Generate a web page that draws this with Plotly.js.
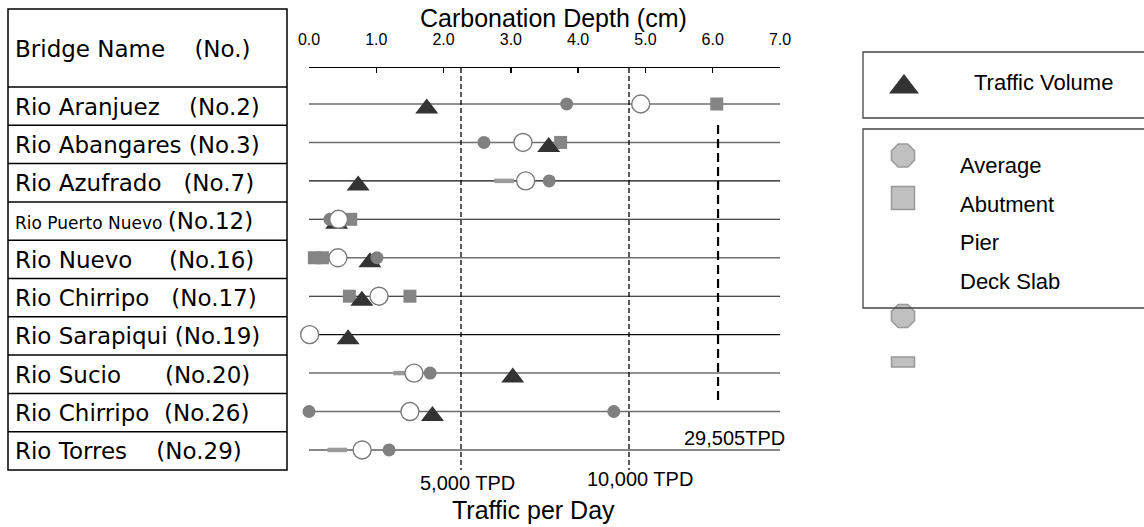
<!DOCTYPE html>
<html><head><meta charset="utf-8">
<script src="https://cdn.plot.ly/plotly-3.0.1.min.js"></script>
<style>html,body{margin:0;padding:0;background:#fff;}#chart{width:1144px;height:527px;}</style>
</head><body><div id="chart"></div>
<script>
// ---------------- data ----------------
const headerName = 'Bridge Name';
const headerNo = '(No.)';
const bridgeNames = ['Rio Aranjuez','Rio Abangares','Rio Azufrado','Rio Puerto Nuevo','Rio Nuevo',
                     'Rio Chirripo','Rio Sarapiqui','Rio Sucio','Rio Chirripo','Rio Torres'];
const bridgeNos = ['(No.2)','(No.3)','(No.7)','(No.12)','(No.16)','(No.17)','(No.19)','(No.20)','(No.26)','(No.29)'];
// carbonation depth (cm)
const averageDepth  = [4.93, 3.18, 3.22, 0.44, 0.43, 1.04, 0.01, 1.56, 1.50, 0.79];
const pierDepth     = [[3.83],[2.60],[3.57],[0.31],[1.01],[],[],[1.80],[0.00,4.53],[1.19]];
const abutmentDepth = [[6.06],[3.74],[],[0.62],[0.08,0.20],[0.60,1.50],[],[],[],[]];
const deckSlabDepth = [[],[],[2.90],[],[],[],[],[1.40],[],[0.42]];
// traffic volume (vehicles per day)
const trafficTPD    = [3980, 7610, 1940, 1300, 2290, 2050, 1640, 6540, 4150, 29505];
const depthTicks = [0,1,2,3,4,5,6,7];
const trafficRefLines = [5000, 10000];
const trafficRefLabels = ['5,000 TPD', '10,000 TPD'];
const offScaleLabel = '29,505TPD';
const legendTop = ['Traffic Volume'];
const legendBottom = ['Average','Abutment','Pier','Deck Slab'];

// ---------------- layout constants (pixels) ----------------
const W = 1144, H = 527;
const plotL = 309, plotR = 780, plotT = 68, plotB = 470;
const rowStep = 38.44, firstRowY = 104;
const px = v => v / W, py = v => 1 - v / H;
const NB = '\u00a0';
const labelGaps = [4,1,3,1,5,3,1,6,2,4];
const rowLineStyle = ['g','g','k','k','g','k','k','g','g','k'];

const keys = bridgeNames.map((n,i) => n + ' ' + bridgeNos[i]);
const yRange = [(plotB - firstRowY) / rowStep, -(firstRowY - plotT) / rowStep];
const triShift = 4.5 / rowStep;
// traffic scale: 5,000 TPD at x=461px, 10,000 TPD at x=629px
const tpdPerPx = 5000 / (629 - 461);
const trafficRange = [5000 - (461 - plotL) * tpdPerPx, 5000 + (plotR - 461) * tpdPerPx];

function flatten(nested) {
  const xs = [], ys = [];
  nested.forEach((arr, i) => arr.forEach(v => { xs.push(v); ys.push(keys[i]); }));
  return {x: xs, y: ys};
}
const pier = flatten(pierDepth), abut = flatten(abutmentDepth), deck = flatten(deckSlabDepth);

const traces = [
  {type:'scatter', mode:'markers', x: deck.x, y: deck.y, xaxis:'x', yaxis:'y', cliponaxis:false,
   marker:{symbol:'line-ew', size:14, line:{width:4.5, color:'#9a9a9a'}}, name:'Deck Slab'},
  {type:'scatter', mode:'markers', x: abut.x, y: abut.y, xaxis:'x', yaxis:'y', cliponaxis:false,
   marker:{symbol:'square', size:13, color:'#858585', line:{width:0}}, name:'Abutment'},
  {type:'scatter', mode:'markers', x: trafficTPD, y: keys, xaxis:'x2', yaxis:'y2', cliponaxis:true,
   marker:{symbol:'triangle-up', size:20, color:'#333333', line:{width:0}}, name:'Traffic Volume'},
  {type:'scatter', mode:'markers', x: pier.x, y: pier.y, xaxis:'x3', yaxis:'y3', cliponaxis:false,
   marker:{symbol:'circle', size:13, color:'#808080', line:{width:0}}, name:'Pier'},
  {type:'scatter', mode:'markers', x: averageDepth, y: keys, xaxis:'x3', yaxis:'y3', cliponaxis:false,
   marker:{symbol:'circle', size:18, color:'#ffffff', line:{width:1.4, color:'#7a7a7a'}}, name:'Average'},
  // legend glyphs (pixel coordinate axes)
  {type:'scatter', mode:'markers', x:[904], y:[87], xaxis:'x4', yaxis:'y4', cliponaxis:false,
   marker:{symbol:'triangle-up', size:26, color:'#333333', line:{width:0}}},
  {type:'scatter', mode:'markers', x:[903, 903], y:[155.5, 316], xaxis:'x4', yaxis:'y4', cliponaxis:false,
   marker:{symbol:'octagon', size:25, color:'#c0c0c0', line:{width:1.5, color:'#999999'}}},
  {type:'scatter', mode:'markers', x:[903], y:[198], xaxis:'x4', yaxis:'y4', cliponaxis:false,
   marker:{symbol:'square', size:23, color:'#c0c0c0', line:{width:1.5, color:'#999999'}}}
];

const shapes = [];
// table
shapes.push({type:'rect', xref:'paper', yref:'paper', x0:px(8), x1:px(287), y0:py(9), y1:py(470), line:{color:'#000', width:1.5}});
for (let i = 0; i < 10; i++) {
  const yb = 87 + i * 38.3;
  shapes.push({type:'line', xref:'paper', yref:'paper', x0:px(8), x1:px(287), y0:py(yb), y1:py(yb), line:{color:'#000', width:1.5}});
}
// row lines
keys.forEach((k,i) => shapes.push({type:'line', xref:'x domain', yref:'y', x0:0, x1:1, y0:k, y1:k, layer:'below',
  line: rowLineStyle[i]==='g' ? {color:'#6e6e6e', width:1.5} : {color:'#111', width:1.1}}));
// traffic reference lines
trafficRefLines.forEach(v => shapes.push({type:'line', xref:'x2', yref:'paper', x0:v, x1:v, y0:py(plotT), y1:py(plotB),
  layer:'below', line:{color:'#000', width:1.3, dash:'5px,3px'}}));
shapes.push({type:'line', xref:'x2', yref:'paper', x0:12650, x1:12650, y0:py(125), y1:py(403),
  layer:'below', line:{color:'#000', width:2.2, dash:'9px,5px'}});
// legend boxes
shapes.push({type:'rect', xref:'paper', yref:'paper', x0:px(863), x1:px(1150), y0:py(52), y1:py(118), line:{color:'#444', width:1.3}});
shapes.push({type:'rect', xref:'paper', yref:'paper', x0:px(863), x1:px(1150), y0:py(129), y1:py(308), line:{color:'#444', width:1.3}});
shapes.push({type:'rect', xref:'paper', yref:'paper', x0:px(891.5), x1:px(914.5), y0:py(357), y1:py(367),
  fillcolor:'#c0c0c0', line:{color:'#999999', width:1.5}});

const ann = [];
const tableFont = {family:'DejaVu Sans, Noto Sans CJK JP', size:23, color:'#000'};
ann.push({xref:'paper', yref:'paper', x:px(13), y:py(49), xanchor:'left', yanchor:'middle', showarrow:false,
  text: headerName + NB.repeat(4) + headerNo, font: tableFont});
bridgeNames.forEach((n,i) => {
  const nameTxt = i === 3 ? '<span style="font-size:17px">' + n + NB + '</span>' : n + NB.repeat(labelGaps[i]);
  ann.push({xref:'paper', yref:'paper', x:px(13), y:py(106.5 + i * 38.3), xanchor:'left', yanchor:'middle', showarrow:false,
    text: nameTxt + bridgeNos[i], font: tableFont});
});
const axFont = 'Liberation Sans, Arial, sans-serif';
ann.push({xref:'paper', yref:'paper', x:px(553), y:py(18), showarrow:false, xanchor:'center', yanchor:'middle',
  text:'Carbonation Depth (cm)', font:{family:axFont, size:25, color:'#000'}});
ann.push({xref:'paper', yref:'paper', x:px(467), y:py(483), showarrow:false, xanchor:'center', yanchor:'middle',
  text:trafficRefLabels[0], font:{family:axFont, size:20, color:'#000'}});
ann.push({xref:'paper', yref:'paper', x:px(640), y:py(479), showarrow:false, xanchor:'center', yanchor:'middle',
  text:trafficRefLabels[1], font:{family:axFont, size:20, color:'#000'}});
ann.push({xref:'paper', yref:'paper', x:px(787), y:py(438), showarrow:false, xanchor:'right', yanchor:'middle',
  text:offScaleLabel, font:{family:axFont, size:20, color:'#000'}});
ann.push({xref:'paper', yref:'paper', x:px(533), y:py(510), showarrow:false, xanchor:'center', yanchor:'middle',
  text:'Traffic per Day', font:{family:axFont, size:25, color:'#000'}});
ann.push({xref:'paper', yref:'paper', x:px(1043), y:py(82), showarrow:false, xanchor:'center', yanchor:'middle',
  text:legendTop[0], font:{family:axFont, size:22, color:'#000'}});
legendBottom.forEach((t,i) => ann.push({xref:'paper', yref:'paper', x:px(958), y:py(166 + i * 38.4), showarrow:false,
  xanchor:'left', yanchor:'middle', text:t, font:{family:axFont, size:22, color:'#000'}}));

const hidden = {visible:false, showgrid:false, zeroline:false, fixedrange:true};
const layout = {
  width: W, height: H, margin:{l:0, r:0, t:0, b:0}, showlegend:false,
  paper_bgcolor:'#fff', plot_bgcolor:'rgba(0,0,0,0)',
  xaxis: {domain:[px(plotL), px(plotR)], range:[0,7], side:'top', anchor:'y', showline:true, linecolor:'#000', linewidth:1.5,
    ticks:'inside', ticklen:5, tickwidth:1.5, tickcolor:'#000', tickvals:depthTicks, tickformat:'.1f',
    tickfont:{family:axFont, size:16, color:'#000'}, ticklabelstandoff:15, showgrid:false, zeroline:false, fixedrange:true},
  yaxis: Object.assign({}, hidden, {domain:[py(plotB), py(plotT)], type:'category', categoryorder:'array', categoryarray:keys, range:yRange, anchor:'x'}),
  xaxis2: Object.assign({}, hidden, {overlaying:'x', range:trafficRange, anchor:'y2'}),
  yaxis2: Object.assign({}, hidden, {overlaying:'y', type:'category', categoryorder:'array', categoryarray:keys,
    range:[yRange[0] - triShift, yRange[1] - triShift], anchor:'x2'}),
  xaxis3: Object.assign({}, hidden, {overlaying:'x', range:[0,7], anchor:'y3'}),
  yaxis3: Object.assign({}, hidden, {overlaying:'y', type:'category', categoryorder:'array', categoryarray:keys, range:yRange, anchor:'x3'}),
  xaxis4: Object.assign({}, hidden, {domain:[0,1], range:[0,W], anchor:'y4'}),
  yaxis4: Object.assign({}, hidden, {domain:[0,1], range:[H,0], anchor:'x4'}),
  shapes: shapes, annotations: ann
};
Plotly.newPlot('chart', traces, layout, {staticPlot:true, displayModeBar:false});
</script></body></html>
